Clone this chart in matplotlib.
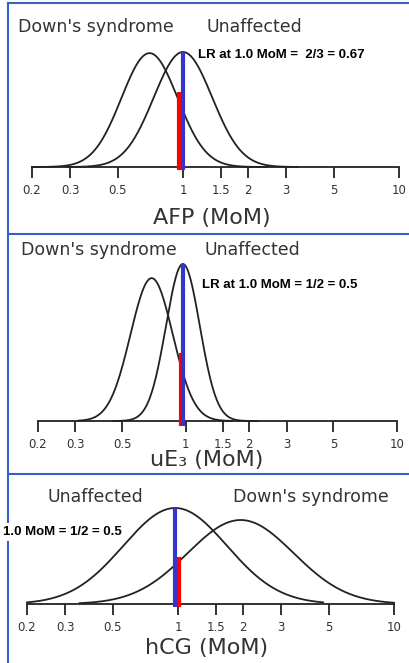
import numpy as np
import matplotlib.pyplot as plt
from matplotlib.lines import Line2D
from matplotlib.ticker import FixedLocator, FixedFormatter, NullLocator

plt.rcParams['font.family'] = 'DejaVu Sans'

# data
ticks = [0.2, 0.3, 0.5, 1, 1.5, 2, 3, 5, 10]
tick_labels = ['0.2', '0.3', '0.5', '1', '1.5', '2', '3', '5', '10']
markers = ['AFP (MoM)', 'uE₃ (MoM)', 'hCG (MoM)']

# log-normal curves: median MoM, log10 SD, relative peak height, drawn range
down_median = [0.70, 0.69, 1.95]
down_sd = [0.13, 0.10, 0.245]
down_peak = [0.99, 0.91, 0.875]
down_range = [(0.2, 2.45), (0.31, 1.65), (0.35, 10)]
unaff_median = [1.0, 0.97, 0.97]
unaff_sd = [0.135, 0.08, 0.24]
unaff_peak = [1.0, 1.0, 1.0]
unaff_range = [(0.29, 3.4), (0.45, 2.2), (0.2, 4.7)]

# likelihood bars at 1.0 MoM
blue_x = [1.0, 0.97, 0.97]
blue_h = [1.0, 1.0, 1.0]
red_x = [0.957, 0.955, 1.01]
red_h = [0.65, 0.43, 0.49]
lr_texts = ['LR at 1.0 MoM =  2/3 = 0.67', 'LR at 1.0 MoM = 1/2 = 0.5', '1.0 MoM = 1/2 = 0.5']

# layout in pixels
W, H = 410, 663
def fx(px):
    return px / W
def fy(py):
    return 1 - py / H

panel_px = [(32, 399, 167, 52), (38, 397, 421, 264), (27, 394, 604, 508)]
left_label_px = [(18, 27, "Down's syndrome"), (21, 250, "Down's syndrome"), (48, 497, 'Unaffected')]
right_label_px = [(207, 27, 'Unaffected'), (205, 250, 'Unaffected'), (233, 497, "Down's syndrome")]
lr_px = [(198, 55), (202, 285), (3, 532)]
xlabel_px = [(212, 218), (207, 460), (207, 648)]

curve_color = '#222222'
text_gray = '#333333'
border_color = '#3563c4'

fig = plt.figure(figsize=(W / 100, H / 100), dpi=100)

for i in range(3):
    l, r, b, t = panel_px[i]
    ax = fig.add_axes([fx(l), fy(b), (r - l) / W, (b - t) / H])
    ax.patch.set_alpha(0)
    ax.set_xscale('log')
    ax.set_xlim(0.2, 10)
    ax.set_ylim(0, 1)
    for s in ['top', 'right', 'left']:
        ax.spines[s].set_visible(False)
    ax.spines['bottom'].set_linewidth(1.3)
    ax.spines['bottom'].set_color(curve_color)
    ax.set_yticks([])
    ax.xaxis.set_major_locator(FixedLocator(ticks))
    ax.xaxis.set_major_formatter(FixedFormatter(tick_labels))
    ax.xaxis.set_minor_locator(NullLocator())
    ax.tick_params(axis='x', direction='out', length=8, width=1.3, color=curve_color,
                   labelsize=8.5, labelcolor=text_gray, pad=4)

    for med, sd, pk, rng in [(down_median[i], down_sd[i], down_peak[i], down_range[i]),
                             (unaff_median[i], unaff_sd[i], unaff_peak[i], unaff_range[i])]:
        x = np.logspace(np.log10(rng[0]), np.log10(rng[1]), 400)
        y = pk * np.exp(-0.5 * ((np.log10(x) - np.log10(med)) / sd) ** 2)
        ax.plot(x, y, color=curve_color, lw=1.3, clip_on=False, zorder=2)

    ax.vlines(red_x[i], -0.03, red_h[i], colors='#ff0000', lw=3, clip_on=False, zorder=3)
    ax.vlines(blue_x[i], -0.03, blue_h[i], colors='#3535c8', lw=3, clip_on=False, zorder=3)

    x0, y0, s = left_label_px[i]
    fig.text(fx(x0), fy(y0), s, fontsize=12.5, color=text_gray, va='center', ha='left')
    x0, y0, s = right_label_px[i]
    fig.text(fx(x0), fy(y0), s, fontsize=12.5, color=text_gray, va='center', ha='left')

    x0, y0 = lr_px[i]
    kw = {}
    if i == 2:
        kw['bbox'] = dict(facecolor='white', edgecolor='none', pad=2)
    fig.text(fx(x0), fy(y0), lr_texts[i], family='Liberation Sans', fontweight='bold',
             fontsize=9.5, color='black', va='center', ha='left', **kw)

    x0, y0 = xlabel_px[i]
    fig.text(fx(x0), fy(y0), markers[i], fontsize=16, color=text_gray, va='center', ha='center')

# panel frame lines
for y in [3, 234, 474]:
    fig.add_artist(Line2D([fx(8), 1], [fy(y), fy(y)], transform=fig.transFigure,
                          color=border_color, lw=1.5))
fig.add_artist(Line2D([fx(8), fx(8)], [fy(3), 0], transform=fig.transFigure,
                      color=border_color, lw=1.5))

fig.savefig('out.png', dpi=100)
